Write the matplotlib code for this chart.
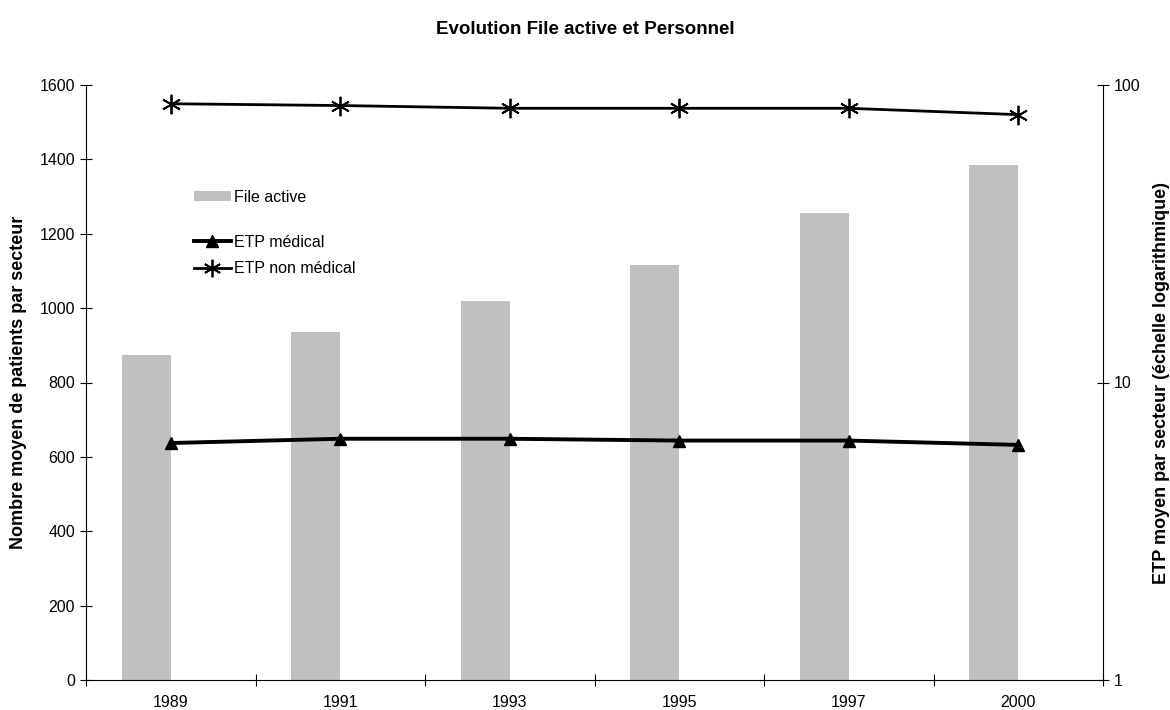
import numpy as np
import matplotlib
matplotlib.use("Agg")
import matplotlib.pyplot as plt
from matplotlib.ticker import FixedLocator, NullFormatter

plt.rcParams['font.family'] = ['Liberation Sans', 'DejaVu Sans']

# data
years = ['1989', '1991', '1993', '1995', '1997', '2000']
file_active = [875, 937, 1020, 1117, 1257, 1385]
etp_medical = [6.26, 6.47, 6.47, 6.38, 6.38, 6.17]
etp_non_medical = [86.5, 85.3, 83.5, 83.5, 83.5, 79.5]

fig = plt.figure(figsize=(11.7, 7.1), dpi=100)
ax = fig.add_axes([86 / 1170, 30 / 710, (1103 - 86) / 1170, (680 - 85) / 710])
ax2 = ax.twinx()

x = np.arange(len(years))
bar_w = 0.289
bars = ax.bar(x - bar_w / 2, file_active, width=bar_w, color='#c0c0c0', zorder=1)

ax.set_xlim(-0.5, len(years) - 0.5)
ax.set_ylim(0, 1600)
ax.set_yticks(np.arange(0, 1601, 200))
ax.set_xticks(x)
ax.set_xticklabels(years)
ax.xaxis.set_minor_locator(FixedLocator(np.arange(-0.5, len(years), 1.0)))
ax.tick_params(axis='x', which='major', length=0, pad=11, labelsize=11.5)
ax.tick_params(axis='x', which='minor', direction='inout', length=8, width=0.8)
ax.tick_params(axis='y', direction='inout', length=8, width=0.8, labelsize=11.5, pad=4)
ax.spines['top'].set_visible(False)
ax.spines['right'].set_visible(False)
ax.set_ylabel('Nombre moyen de patients par secteur', fontsize=13,
              fontweight='bold')
ax.yaxis.set_label_coords(-0.058, 0.5)

l1, = ax2.plot(x, etp_medical, color='black', lw=2.8, marker='^',
               markersize=9, zorder=3)
l2, = ax2.plot(x, etp_non_medical, color='black', lw=2.0, marker=(6, 2, 0),
               markersize=14, markeredgewidth=1.3, zorder=3)
ax2.set_yscale('log')
ax2.set_ylim(1, 100)
ax2.set_yticks([1, 10, 100])
ax2.set_yticklabels(['1', '10', '100'])
ax2.yaxis.set_minor_formatter(NullFormatter())
ax2.tick_params(axis='y', which='minor', length=0)
ax2.tick_params(axis='y', which='major', direction='inout', length=8, width=0.8,
                labelsize=11.5, pad=4)
ax2.spines['top'].set_visible(False)
ax2.spines['left'].set_visible(False)
ax2.spines['bottom'].set_visible(False)
ax2.set_ylabel('ETP moyen par secteur (échelle logarithmique)', fontsize=13,
               fontweight='bold', rotation=90)
ax2.yaxis.set_label_coords(1.049, 0.5)

fig.text(0.5, 1 - 30 / 710, 'Evolution File active et Personnel',
         ha='center', va='center', fontsize=13.5, fontweight='bold')

leg1 = ax2.legend([bars], ['File active'], loc='upper left',
                  bbox_to_anchor=(186 / 1170, 1 - 182 / 710),
                  bbox_transform=fig.transFigure, frameon=False, fontsize=11.5,
                  borderpad=0, handlelength=2.3, handleheight=0.6,
                  handletextpad=0.2)
ax2.add_artist(leg1)
ax2.legend([l1, l2], ['ETP médical', 'ETP non médical'], loc='upper left',
           bbox_to_anchor=(186 / 1170, 1 - 227 / 710),
           bbox_transform=fig.transFigure, frameon=False, fontsize=11.5,
           borderpad=0, handlelength=2.3, handletextpad=0.2, labelspacing=0.72,
           markerscale=0.9)

fig.savefig('out.png', dpi=100)
